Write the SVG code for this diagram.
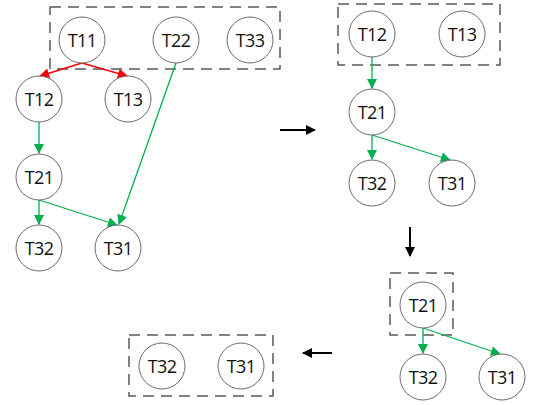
<svg xmlns="http://www.w3.org/2000/svg" width="536" height="405" viewBox="0 0 536 405">
<defs>
<style>
.n circle{fill:#fff;stroke:#6b6b6b;stroke-width:1}
.n text{font-family:"Open Sans","Noto Sans",sans-serif;font-size:18px;letter-spacing:-0.6px;fill:#111;text-anchor:middle;dominant-baseline:central}
.box{fill:none;stroke:#595959;stroke-width:1.5;stroke-dasharray:11 7}
.g{stroke:#00b050;stroke-width:1.3;fill:none;marker-end:url(#ag)}
.r{stroke:#ff0000;stroke-width:1.4;fill:none;marker-end:url(#ar)}
.k{stroke:#000;stroke-width:2;fill:none;marker-end:url(#ak)}
</style>
<marker id="ag" viewBox="0 0 10 10" refX="9" refY="5" markerWidth="11" markerHeight="10" markerUnits="userSpaceOnUse" orient="auto"><path d="M0,0 L10,5 L0,10 z" fill="#00b050"/></marker>
<marker id="ar" viewBox="0 0 10 10" refX="9" refY="5" markerWidth="12" markerHeight="10" markerUnits="userSpaceOnUse" orient="auto"><path d="M0,0 L10,5 L0,10 z" fill="#ff0000"/></marker>
<marker id="ak" viewBox="0 0 10 10" refX="9" refY="5" markerWidth="14" markerHeight="10" markerUnits="userSpaceOnUse" orient="auto"><path d="M0,0 L10,5 L0,10 z" fill="#000"/></marker>
</defs>
<g id="boxes">
<rect class="box" x="50" y="7" width="230" height="62"/>
<rect class="box" x="338" y="4" width="162" height="61"/>
<rect class="box" x="390" y="273" width="63" height="62"/>
<rect class="box" x="129" y="335" width="144" height="61"/>
</g>
<g id="connectors">
<line class="r" x1="82" y1="63" x2="40" y2="76"/>
<line class="r" x1="82" y1="63" x2="127" y2="76"/>
<line class="g" x1="39" y1="122" x2="39" y2="153"/>
<line class="g" x1="39" y1="200" x2="39" y2="224"/>
<line class="g" x1="39" y1="200" x2="117" y2="225"/>
<line class="g" x1="176" y1="63" x2="119" y2="224"/>
<line class="g" x1="372" y1="57" x2="372" y2="88"/>
<line class="g" x1="372" y1="135" x2="372" y2="159"/>
<line class="g" x1="372" y1="135" x2="450" y2="160"/>
<line class="g" x1="423" y1="328" x2="423" y2="353"/>
<line class="g" x1="423" y1="328" x2="500" y2="354"/>
<line class="k" x1="280" y1="130" x2="315" y2="130"/>
<line class="k" x1="410" y1="227" x2="410" y2="256"/>
<line class="k" x1="332" y1="353" x2="303" y2="353"/>
</g>
<g id="n1_T11" class="n"><circle cx="82" cy="40" r="23"/><text x="82" y="40">T11</text></g>
<g id="n1_T22" class="n"><circle cx="176" cy="40" r="23"/><text x="176" y="40">T22</text></g>
<g id="n1_T33" class="n"><circle cx="250" cy="40" r="23"/><text x="250" y="40">T33</text></g>
<g id="n1_T12" class="n"><circle cx="39" cy="99" r="23"/><text x="39" y="99">T12</text></g>
<g id="n1_T13" class="n"><circle cx="128" cy="99" r="23"/><text x="128" y="99">T13</text></g>
<g id="n1_T21" class="n"><circle cx="39" cy="177" r="23"/><text x="39" y="177">T21</text></g>
<g id="n1_T32" class="n"><circle cx="39" cy="248" r="23"/><text x="39" y="248">T32</text></g>
<g id="n1_T31" class="n"><circle cx="118" cy="248" r="23"/><text x="118" y="248">T31</text></g>
<g id="n2_T12" class="n"><circle cx="372" cy="34" r="23"/><text x="372" y="34">T12</text></g>
<g id="n2_T13" class="n"><circle cx="462" cy="34" r="23"/><text x="462" y="34">T13</text></g>
<g id="n2_T21" class="n"><circle cx="372" cy="112" r="23"/><text x="372" y="112">T21</text></g>
<g id="n2_T32" class="n"><circle cx="372" cy="183" r="23"/><text x="372" y="183">T32</text></g>
<g id="n2_T31" class="n"><circle cx="452" cy="183" r="23"/><text x="452" y="183">T31</text></g>
<g id="n3_T21" class="n"><circle cx="423" cy="305" r="23"/><text x="423" y="305">T21</text></g>
<g id="n3_T32" class="n"><circle cx="423" cy="377" r="23"/><text x="423" y="377">T32</text></g>
<g id="n3_T31" class="n"><circle cx="502" cy="377" r="23"/><text x="502" y="377">T31</text></g>
<g id="n4_T32" class="n"><circle cx="162" cy="366" r="23"/><text x="162" y="366">T32</text></g>
<g id="n4_T31" class="n"><circle cx="241" cy="366" r="23"/><text x="241" y="366">T31</text></g>
</svg>
